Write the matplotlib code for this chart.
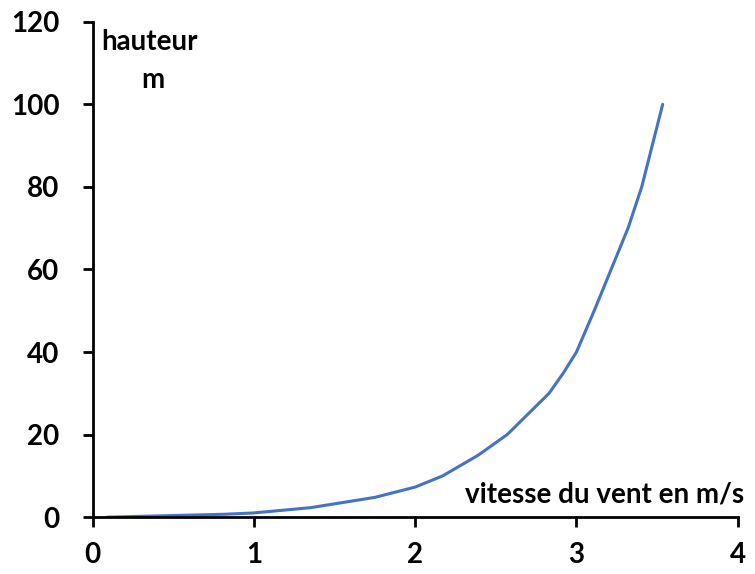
import matplotlib.pyplot as plt

# wind speed (m/s) vs height (m)
vitesse = [0.09, 0.81, 0.99, 1.35, 1.75, 2.0, 2.17, 2.39, 2.57, 2.70, 2.83,
           2.92, 3.0, 3.11, 3.215, 3.32, 3.405, 3.535]
hauteur = [0.0, 0.7, 1.0, 2.3, 4.8, 7.3, 10, 15, 20, 25, 30,
           35, 40, 50, 60, 70, 80, 100]
x_ticks = [0, 1, 2, 3, 4]
y_ticks = [0, 20, 40, 60, 80, 100, 120]

plt.rcParams['font.family'] = ['Lato', 'DejaVu Sans']

fig = plt.figure(figsize=(7.55, 5.74), dpi=100)
ax = fig.add_axes([0.123, 0.099, 0.854, 0.863])
ax.plot(vitesse, hauteur, color="#4472C4", lw=2.2, solid_capstyle="round",
        solid_joinstyle="round")

ax.set_xlim(0, 4)
ax.set_ylim(0, 120)
ax.set_xticks(x_ticks)
ax.set_yticks(y_ticks)
for s in ["top", "right"]:
    ax.spines[s].set_visible(False)
for s in ["left", "bottom"]:
    ax.spines[s].set_linewidth(2)
ax.tick_params(width=2, length=7, labelsize=20)
ax.tick_params(axis="y", pad=17)
ax.tick_params(axis="x", pad=11)
for lab in ax.get_xticklabels() + ax.get_yticklabels():
    lab.set_fontweight("bold")

ax.text(0.05, 115, "hauteur", fontsize=20, fontweight="bold", ha="left", va="center")
ax.text(0.37, 106, "m", fontsize=20, fontweight="bold", ha="center", va="center")
ax.text(4.04, 5.5, "vitesse du vent en m/s", fontsize=20, fontweight="bold",
        ha="right", va="center")

fig.savefig("out.png", dpi=100)
